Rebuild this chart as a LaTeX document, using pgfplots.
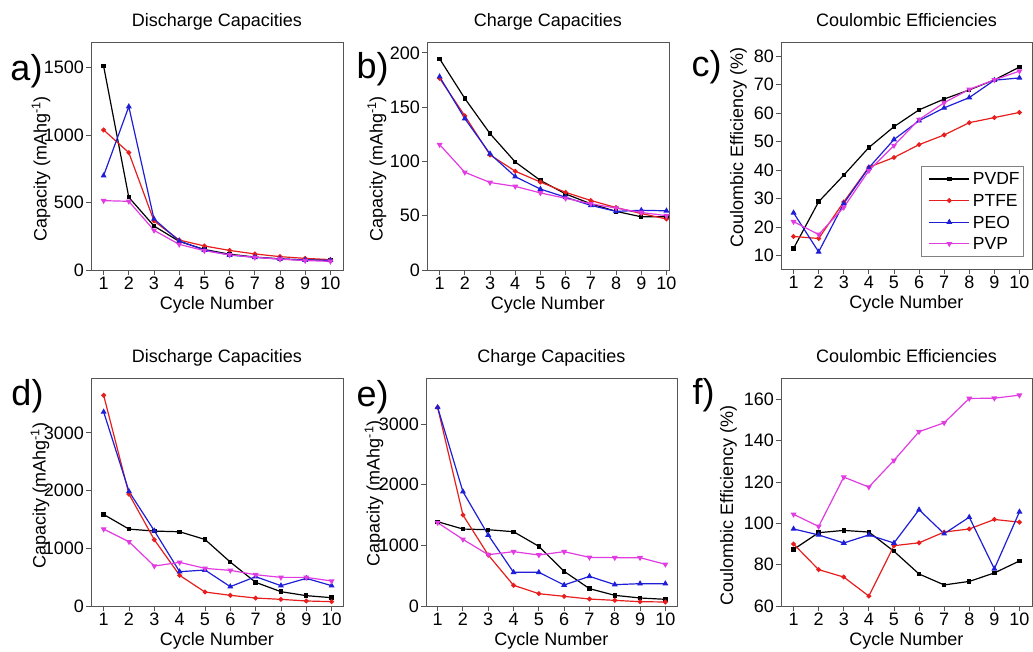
\documentclass[border=0pt]{standalone}
\usepackage{fontspec}
\setmainfont{Liberation Sans}
\usepackage{pgfplots}
\pgfplotsset{compat=1.18}
\definecolor{cred}{RGB}{230,30,30}
\definecolor{cblue}{RGB}{30,30,215}
\definecolor{cmag}{RGB}{225,60,225}
\definecolor{axgray}{RGB}{85,85,85}
\newcommand{\fs}{\fontsize{18}{20}\selectfont}
\pgfplotsset{
 panel/.style={
  scale only axis, height=228pt,
  xmin=0.5, xmax=10.5,
  xtick={1,...,10},
  tick align=outside, tick pos=left,
  major tick length=5pt,
  axis line style={axgray, line width=0.9pt},
  tick style={axgray, line width=0.9pt},
  tick label style={font=\fs, inner sep=2pt},
  /pgf/number format/assume math mode=true,
  /pgf/number format/1000 sep={},
  xlabel={Cycle Number},
  xlabel style={font=\fs, at={(axis description cs:0.5,0)}, anchor=north, yshift=-23pt},
  ylabel style={font=\fs, anchor=center},
  title style={font=\fs, at={(axis description cs:0.5,1)}, anchor=base, yshift=9pt},
  clip=false,
  every axis plot/.append style={line width=1.2pt},
 },
 pvdf/.style={black, mark=square*, mark size=1.6pt},
 ptfe/.style={cred, mark=*, mark size=1.8pt},
 peo/.style={cblue, mark=triangle*, mark size=2.3pt},
 pvp/.style={cmag, mark=triangle*, mark size=2.3pt, mark options={rotate=180}},
}
\begin{document}
\begin{tikzpicture}
\useasboundingbox (0pt,0pt) rectangle (1033pt,652pt);
% ---------- a ----------
\begin{axis}[panel, at={(91pt,382pt)}, anchor=south west, width=252pt,
  ymin=0, ymax=1690, ytick={0,500,1000,1500},
  title={Discharge Capacities},
  ylabel={Capacity (mAhg\textsuperscript{-1})},
  ylabel style={at={(axis description cs:-0.198,0.443)}}]
\addplot[pvdf] coordinates {(1,1512)(2,539)(3,326)(4,212)(5,152)(6,117)(7,96)(8,82)(9,74)(10,76)};
\addplot[ptfe] coordinates {(1,1038)(2,870)(3,363)(4,222)(5,178)(6,145)(7,119)(8,99)(9,86)(10,77)};
\addplot[peo] coordinates {(1,699)(2,1211)(3,378)(4,215)(5,148)(6,111)(7,94)(8,82)(9,74)(10,72)};
\addplot[pvp] coordinates {(1,514)(2,509)(3,294)(4,190)(5,143)(6,112)(7,94)(8,80)(9,70)(10,64)};
\end{axis}
% ---------- b ----------
\begin{axis}[panel, at={(427pt,382pt)}, anchor=south west, width=242pt,
  xmax=10.1,
  ymin=0, ymax=210, ytick={0,50,100,150,200},
  title={Charge Capacities},
  ylabel={Capacity (mAhg\textsuperscript{-1})},
  ylabel style={at={(axis description cs:-0.207,0.443)}}]
\addplot[pvdf] coordinates {(1,194.5)(2,158)(3,125.6)(4,99.5)(5,82.5)(6,70)(7,61)(8,54)(9,49)(10,49)};
\addplot[ptfe] coordinates {(1,176.6)(2,142)(3,106)(4,91)(5,81)(6,71.5)(7,64)(8,57.5)(9,52)(10,47)};
\addplot[peo] coordinates {(1,178)(2,139.5)(3,107)(4,86)(5,74.5)(6,67)(7,59.5)(8,54)(9,55)(10,54.5)};
\addplot[pvp] coordinates {(1,115.5)(2,90)(3,80.6)(4,77)(5,71)(6,66)(7,61)(8,57)(9,53)(10,50)};
\end{axis}
% ---------- c ----------
\begin{axis}[panel, at={(781pt,383pt)}, anchor=south west, width=251pt, height=227pt,
  ymin=5.3, ymax=84.9, ytick={10,20,...,80},
  title={Coulombic Efficiencies},
  ylabel={Coulombic Efficiency (\%)},
  ylabel style={at={(axis description cs:-0.169,0.534)}},
  legend image code/.code={\path (0pt,0pt); \draw[mark repeat=2,mark phase=2,#1] plot coordinates {(6pt,0pt) (26pt,0pt) (46pt,0pt)};},
  legend style={at={(axis description cs:0.968,0.053)}, anchor=south east,
    draw=gray, line width=0.8pt, font=\fontsize{17.5}{19}\selectfont, inner xsep=1pt, inner ysep=2pt,
    nodes={inner xsep=3pt, inner ysep=3.8pt, text height=13pt, text depth=1pt}},
  legend cell align=left]
\addplot[pvdf] coordinates {(1,12.5)(2,28.9)(3,38.2)(4,47.9)(5,55.2)(6,61.1)(7,64.9)(8,68.1)(9,71.6)(10,76.1)};
\addplot[ptfe] coordinates {(1,16.7)(2,16.0)(3,28.8)(4,41.0)(5,44.4)(6,48.9)(7,52.3)(8,56.6)(9,58.4)(10,60.2)};
\addplot[peo] coordinates {(1,25.0)(2,11.3)(3,28.3)(4,40.8)(5,50.7)(6,57.3)(7,61.8)(8,65.4)(9,71.5)(10,72.3)};
\addplot[pvp] coordinates {(1,21.9)(2,17.4)(3,26.9)(4,39.8)(5,48.6)(6,57.7)(7,63.6)(8,68.3)(9,71.6)(10,74.7)};
\legend{PVDF,PTFE,PEO,PVP}
\end{axis}
% ---------- d ----------
\begin{axis}[panel, at={(91pt,46pt)}, anchor=south west, width=252pt,
  xmax=10.45,
  ymin=0, ymax=3950, ytick={0,1000,2000,3000},
  title={Discharge Capacities},
  ylabel={Capacity (mAhg\textsuperscript{-1})},
  ylabel style={at={(axis description cs:-0.202,0.484)}}]
\addplot[pvdf] coordinates {(1,1586)(2,1332)(3,1298)(4,1286)(5,1153)(6,761)(7,410)(8,248)(9,179)(10,144)};
\addplot[ptfe] coordinates {(1,3650)(2,1938)(3,1148)(4,531)(5,242)(6,185)(7,138)(8,115)(9,87)(10,75)};
\addplot[peo] coordinates {(1,3362)(2,1984)(3,1303)(4,594)(5,623)(6,335)(7,508)(8,352)(9,479)(10,352)};
\addplot[pvp] coordinates {(1,1332)(2,1113)(3,692)(4,756)(5,652)(6,617)(7,542)(8,496)(9,496)(10,433)};
\end{axis}
% ---------- e ----------
\begin{axis}[panel, at={(426pt,46pt)}, anchor=south west, width=251pt,
  xmin=0.54, xmax=10.46,
  ymin=0, ymax=3760, ytick={0,1000,2000,3000},
  title={Charge Capacities},
  ylabel={Capacity (mAhg\textsuperscript{-1})},
  ylabel style={at={(axis description cs:-0.207,0.494)}}]
\addplot[pvdf] coordinates {(1,1390)(2,1269)(3,1258)(4,1225)(5,984)(6,571)(7,286)(8,176)(9,132)(10,110)};
\addplot[ptfe] coordinates {(1,3275)(2,1500)(3,841)(4,341)(5,203)(6,159)(7,115)(8,93)(9,71)(10,66)};
\addplot[peo] coordinates {(1,3275)(2,1885)(3,1170)(4,555)(5,555)(6,346)(7,489)(8,352)(9,368)(10,368)};
\addplot[pvp] coordinates {(1,1374)(2,1099)(3,846)(4,896)(5,841)(6,896)(7,802)(8,797)(9,797)(10,687)};
\end{axis}
% ---------- f ----------
\begin{axis}[panel, at={(781pt,46pt)}, anchor=south west, width=251pt,
  ymin=60, ymax=170.4, ytick={60,80,...,160},
  title={Coulombic Efficiencies},
  ylabel={Coulombic Efficiency (\%)},
  ylabel style={at={(axis description cs:-0.209,0.44)}}]
\addplot[pvdf] coordinates {(1,87.4)(2,95.5)(3,96.6)(4,95.8)(5,86.5)(6,75.5)(7,70.2)(8,71.9)(9,76)(10,81.8)};
\addplot[ptfe] coordinates {(1,90)(2,77.6)(3,74)(4,64.8)(5,89.2)(6,90.6)(7,95.8)(8,97.3)(9,101.9)(10,100.6)};
\addplot[peo] coordinates {(1,97.3)(2,94.4)(3,90.5)(4,94.4)(5,90.5)(6,106.6)(7,95)(8,103)(9,78)(10,105.6)};
\addplot[pvp] coordinates {(1,104.4)(2,98.5)(3,122.4)(4,117.6)(5,130.5)(6,144.4)(7,148.7)(8,160.5)(9,160.6)(10,162.1)};
\end{axis}
% panel letters
\node[font=\fontsize{36}{40}\selectfont, inner sep=0pt] at (26.5pt,580.5pt) {a)};
\node[font=\fontsize{36}{40}\selectfont, inner sep=0pt] at (372.5pt,583pt) {b)};
\node[font=\fontsize{36}{40}\selectfont, inner sep=0pt] at (706.5pt,585pt) {c)};
\node[font=\fontsize{36}{40}\selectfont, inner sep=0pt] at (27.5pt,256pt) {d)};
\node[font=\fontsize{36}{40}\selectfont, inner sep=0pt] at (372.5pt,254.5pt) {e)};
\node[font=\fontsize{36}{40}\selectfont, inner sep=0pt] at (703.5pt,257pt) {f)};
\end{tikzpicture}
\end{document}
